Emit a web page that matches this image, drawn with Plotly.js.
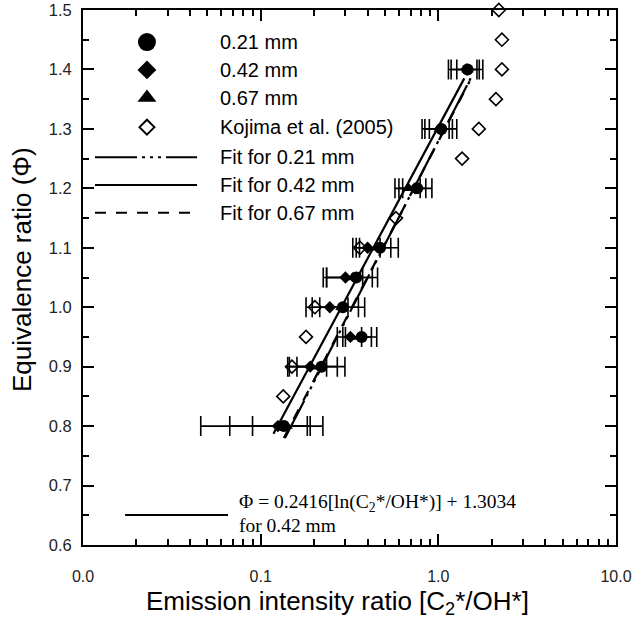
<!DOCTYPE html>
<html>
<head>
<meta charset="utf-8">
<script src="https://cdn.plot.ly/plotly-3.0.1.min.js"></script>
<style>html,body{margin:0;padding:0;background:#fff;}#chart{width:635px;height:619px;}</style>
</head>
<body>
<div id="chart"></div>
<script>
// Equivalence ratio rows
var phi = [0.8, 0.9, 0.95, 1.0, 1.05, 1.1, 1.2, 1.3, 1.4];
// 0.21 mm (circles)
var x021 = [0.135, 0.220, 0.370, 0.290, 0.345, 0.470, 0.760, 1.04, 1.46];
var e021 = [0.089, 0.078, 0.080, 0.095, 0.110, 0.125, 0.160, 0.23, 0.32];
// 0.42 mm (diamonds)
var x042 = [0.125, 0.190, 0.320, 0.245, 0.300, 0.400, 0.740, 1.02, 1.44];
var e042 = [0.058, 0.045, 0.050, 0.065, 0.075, 0.070, 0.110, 0.18, 0.26];
// 0.67 mm (triangles)
var x067 = [0.140, 0.215, 0.360, 0.285, 0.330, 0.450, 0.680, 1.02, 1.46];
var e067 = [0.050, 0.055, 0.060, 0.070, 0.095, 0.090, 0.110, 0.13, 0.19];
// Kojima et al. (2005)
var kojPhi = [0.85, 0.9, 0.95, 1.0, 1.1, 1.15, 1.25, 1.3, 1.35, 1.4, 1.45, 1.5];
var kojX = [0.134, 0.150, 0.180, 0.202, 0.362, 0.577, 1.36, 1.69, 2.11, 2.28, 2.28, 2.19];
// Fit lines (end points)
var fitX021 = [0.137, 1.52], fitY021 = [0.78, 1.385];
var fitX042 = [0.118, 1.40], fitY042 = [0.787, 1.385];
var fitX067 = [0.135, 1.50], fitY067 = [0.78, 1.38];
// Axis ticks
var xTickVals = [0.01, 0.1, 1, 10];
var xTickText = ['0.0', '0.1', '1.0', '10.0'];
var xMinorVals = [0.02,0.03,0.04,0.05,0.06,0.07,0.08,0.09,0.2,0.3,0.4,0.5,0.6,0.7,0.8,0.9,2,3,4,5,6,7,8,9];
var yTickVals = [0.6,0.7,0.8,0.9,1.0,1.1,1.2,1.3,1.4,1.5];
// Legend labels
var legendLabels = ['0.21 mm', '0.42 mm', '0.67 mm', 'Kojima et al. (2005)', 'Fit for 0.21 mm', 'Fit for 0.42 mm', 'Fit for 0.67 mm'];
var xTitle = 'Emission intensity ratio [C<sub>2</sub>*/OH*]';
var yTitle = 'Equivalence ratio (\u03A6)';

var SANS = 'Liberation Sans, Arial, sans-serif';
var SERIF = 'Liberation Serif, Times New Roman, serif';
var dash021 = '42px,5px,3px,5px,3px,5px,3px,5px';
var dash067 = '11px,10px';

function errBar(arr) {
  return {type: 'data', array: arr, symmetric: true, color: 'black', thickness: 1.6, width: 10};
}

var traces = [
  {x: kojX, y: kojPhi, mode: 'markers', type: 'scatter', cliponaxis: false,
   marker: {symbol: 'diamond-open', size: 10, color: 'black', line: {width: 1.6, color: 'black'}}},
  {x: x021, y: phi, mode: 'markers', type: 'scatter', error_x: errBar(e021),
   marker: {symbol: 'circle', size: 12, color: 'black'}},
  {x: x042, y: phi, mode: 'markers', type: 'scatter', error_x: errBar(e042),
   marker: {symbol: 'diamond', size: 9.5, color: 'black'}},
  {x: x067, y: phi, mode: 'markers', type: 'scatter', error_x: errBar(e067),
   marker: {symbol: 'triangle-up', size: 11, color: 'black'}},
  {x: fitX021, y: fitY021, mode: 'lines', type: 'scatter', line: {color: 'black', width: 2.2, dash: dash021}},
  {x: fitX042, y: fitY042, mode: 'lines', type: 'scatter', line: {color: 'black', width: 2.2}},
  {x: fitX067, y: fitY067, mode: 'lines', type: 'scatter', line: {color: 'black', width: 2.2, dash: dash067}}
];

// Custom legend drawn on a hidden overlay axis (positions in fractions of plot area)
var legRows = [0.940, 0.888, 0.836, 0.781, 0.725, 0.673, 0.621];
var legMarkerX = 0.120, legLineX0 = 0.0225, legLineX1 = 0.214, legTextX = 0.253;
var legSymbols = [
  {symbol: 'circle', size: 18, color: 'black', line: {width: 0}},
  {symbol: 'diamond', size: 14.5, color: 'black', line: {width: 0}},
  {symbol: 'triangle-up', size: 16.5, color: 'black', line: {width: 0}},
  {symbol: 'diamond-open', size: 11.5, color: 'black', line: {width: 2, color: 'black'}}
];
for (var i = 0; i < 4; i++) {
  traces.push({x: [legMarkerX], y: [legRows[i]], xaxis: 'x2', yaxis: 'y2', mode: 'markers', type: 'scatter',
    marker: legSymbols[i], hoverinfo: 'skip'});
}
var legDash = [dash021, 'solid', dash067];
for (var j = 0; j < 3; j++) {
  traces.push({x: [legLineX0, legLineX1], y: [legRows[4 + j], legRows[4 + j]], xaxis: 'x2', yaxis: 'y2',
    mode: 'lines', type: 'scatter', line: {color: 'black', width: 2, dash: legDash[j]}, hoverinfo: 'skip'});
}
// equation line sample
traces.push({x: [0.079, 0.272], y: [0.056, 0.056], xaxis: 'x2', yaxis: 'y2', mode: 'lines', type: 'scatter',
  line: {color: 'black', width: 2}, hoverinfo: 'skip'});

var annotations = legendLabels.map(function (t, k) {
  return {xref: 'x2', yref: 'y2', x: legTextX, y: legRows[k], text: t, showarrow: false,
    xanchor: 'left', yanchor: 'middle', font: {family: SANS, size: 20, color: 'black'}};
});
annotations.push({xref: 'x2', yref: 'y2', x: 0.289, y: 0.0785, showarrow: false, xanchor: 'left', yanchor: 'middle',
  text: '\u03A6 = 0.2416[ln(C<sub>2</sub>*/OH*)] + 1.3034', font: {family: SERIF, size: 19.5, color: 'black'}});
annotations.push({xref: 'x2', yref: 'y2', x: 0.289, y: 0.037, showarrow: false, xanchor: 'left', yanchor: 'middle',
  text: 'for 0.42 mm', font: {family: SERIF, size: 19.5, color: 'black'}});
// axis titles
annotations.push({xref: 'paper', yref: 'paper', x: 0.478, y: -0.108, showarrow: false, xanchor: 'center', yanchor: 'middle',
  text: xTitle, font: {family: SANS, size: 26, color: 'black'}});
annotations.push({xref: 'paper', yref: 'paper', x: -0.1144, y: 0.514, showarrow: false, xanchor: 'center', yanchor: 'middle',
  textangle: -90, text: yTitle, font: {family: SANS, size: 26, color: 'black'}});

var layout = {
  width: 635, height: 619,
  margin: {l: 83, r: 19, t: 10, b: 74, pad: 0},
  paper_bgcolor: 'white', plot_bgcolor: 'white',
  showlegend: false,
  font: {family: SANS, color: 'black'},
  xaxis: {
    type: 'log', range: [-2, 1], tickmode: 'array', tickvals: xTickVals, ticktext: xTickText,
    ticks: 'inside', ticklen: 11, tickwidth: 2, tickcolor: 'black', ticklabelstandoff: 16,
    showline: true, linewidth: 2, linecolor: 'black', mirror: 'ticks',
    showgrid: false, zeroline: false,
    tickfont: {family: SANS, size: 16, color: '#222'},
    minor: {tickmode: 'array', tickvals: xMinorVals, ticks: 'inside', ticklen: 6, tickwidth: 2, tickcolor: 'black', showgrid: false},
    automargin: false
  },
  yaxis: {
    range: [0.6, 1.5], tickmode: 'array', tickvals: yTickVals, tickformat: '.1f',
    ticks: 'inside', ticklen: 11, tickwidth: 2, tickcolor: 'black', ticklabelstandoff: 6,
    showline: true, linewidth: 2, linecolor: 'black', mirror: 'ticks',
    showgrid: false, zeroline: false,
    tickfont: {family: SANS, size: 16.5, color: '#222'},
    minor: {dtick: 0.05, ticks: 'inside', ticklen: 6, tickwidth: 2, tickcolor: 'black', showgrid: false},
    automargin: false
  },
  xaxis2: {overlaying: 'x', anchor: 'y2', range: [0, 1], visible: false, fixedrange: true},
  yaxis2: {overlaying: 'y', anchor: 'x2', range: [0, 1], visible: false, fixedrange: true},
  annotations: annotations
};

Plotly.newPlot('chart', traces, layout, {displayModeBar: false, staticPlot: true});
</script>
</body>
</html>
